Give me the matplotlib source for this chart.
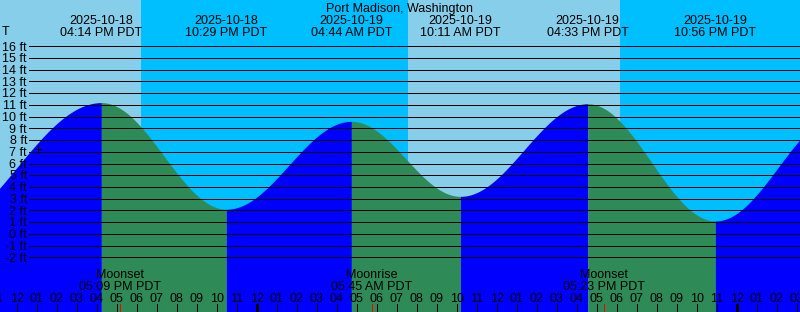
import numpy as np
import matplotlib
matplotlib.use("Agg")
from matplotlib import pyplot as plt

# all times are hours after 2025-10-18 12:00 PM PDT, heights in ft
# first and last entries are the off-chart low / high the curve runs to
tide_times = [-4.27, 4.233, 10.483, 16.733, 22.183, 28.55, 34.933, 41.2]
tide_heights = [0.0, 11.2, 2.1, 9.6, 3.2, 11.1, 1.1, 10.2]
tide_dates = ["", "2025-10-18", "2025-10-18", "2025-10-19", "2025-10-19", "2025-10-19", "2025-10-19", ""]
tide_clock = ["", "04:14 PM PDT", "10:29 PM PDT", "04:44 AM PDT", "10:11 AM PDT", "04:33 PM PDT", "10:56 PM PDT", ""]

moon_times = [5.15, 17.75, 29.383]
moon_events = ["Moonset", "Moonrise", "Moonset"]
moon_clock = ["05:09 PM PDT", "05:45 AM PDT", "05:23 PM PDT"]

# sunset, sunrise, sunset
sun_times = [6.215, 19.565, 30.165]

height_ticks = list(range(-2, 17))
hour_ticks = list(range(-1, 41))
hour_labels = ["%02d" % ((12 + h - 1) % 12 + 1) for h in hour_ticks]
midnights = [12, 36]

now_time = 1.04
now_height = 7.22

title = "Port Madison, Washington"

DAY = "#87CEEB"
NIGHT = "#00BFFF"
FLOOD = "#0000FF"
EBB = "#2E8B57"

# pixel layout of the 800x312 picture
W, H = 800, 312
PX_HR = 20.0
X_NOON = 16.7
PX_FT = 11.72
Y_MINUS2 = 257.3
THIN = 0.72  # one pixel


def px_t(x):
    return (x - X_NOON) / PX_HR


def py_h(y):
    return -2 + (Y_MINUS2 - y) / PX_FT


plt.rcParams['font.family'] = ['Liberation Sans', 'DejaVu Sans']
plt.rcParams['font.size'] = 9

fig = plt.figure(figsize=(W / 100, H / 100), dpi=100)
ax = fig.add_axes([0, 0, 1, 1])
x0, x1 = px_t(0), px_t(W)
y0, y1 = py_h(H), py_h(0)
ax.set_xlim(x0, x1)
ax.set_ylim(y0, y1)
ax.axis('off')

# day / night background
edges = [x0] + sun_times + [x1]
for i in range(len(edges) - 1):
    ax.axvspan(edges[i], edges[i + 1], color=DAY if i % 2 == 0 else NIGHT, lw=0, zorder=0)

# tide curve, filled blue while rising and green while falling
for i in range(len(tide_times) - 1):
    ta, tb = tide_times[i], tide_times[i + 1]
    ha, hb = tide_heights[i], tide_heights[i + 1]
    tt = np.linspace(ta, tb, 400)
    hh = ha + (hb - ha) * (1 - np.cos(np.pi * (tt - ta) / (tb - ta))) / 2
    ax.fill_between(tt, hh, y0, color=FLOOD if hb > ha else EBB, lw=0,
                    antialiased=False, zorder=1)

# height grid lines and labels
for h in height_ticks:
    ax.plot([px_t(29), x1], [h, h], color='black', lw=THIN, antialiased=False, zorder=2)
    yb = py_h(Y_MINUS2 - (h + 2) * PX_FT + 4.2)
    ax.text(px_t(27), yb, f"{h} ft", ha='right', va='baseline', zorder=3)

ax.text(px_t(2), py_h(35), "T", ha='left', va='baseline', zorder=3)
ax.plot(now_time, now_height, marker='+', ms=6, mew=THIN, color='black', zorder=3)

# header: title and tide extremes
ax.text(px_t(400), py_h(12), title, ha='center', va='baseline', zorder=3)
for t, d, c in zip(tide_times, tide_dates, tide_clock):
    if not d:
        continue
    ax.text(t, py_h(24), d, ha='center', va='baseline', zorder=3)
    ax.text(t, py_h(36), c, ha='center', va='baseline', zorder=3)

# moon events
for t, name, c in zip(moon_times, moon_events, moon_clock):
    ax.text(t, py_h(278.3), name, ha='center', va='baseline', zorder=3)
    ax.text(t, py_h(290), c, ha='center', va='baseline', zorder=3)

# hour ticks along the bottom
for h, lab in zip(hour_ticks, hour_labels):
    ax.text(h, py_h(301.5), lab, ha='center', va='baseline', zorder=3)
    lw = 2.16 if h in midnights else THIN
    ax.plot([h, h], [py_h(304), y0], color='black', lw=lw, solid_capstyle='butt',
            antialiased=False, zorder=3)
for t in moon_times:
    ax.plot([t, t], [py_h(304), y0], color='red', lw=THIN, solid_capstyle='butt',
            antialiased=False, zorder=3)

fig.savefig("out.png", dpi=100)
